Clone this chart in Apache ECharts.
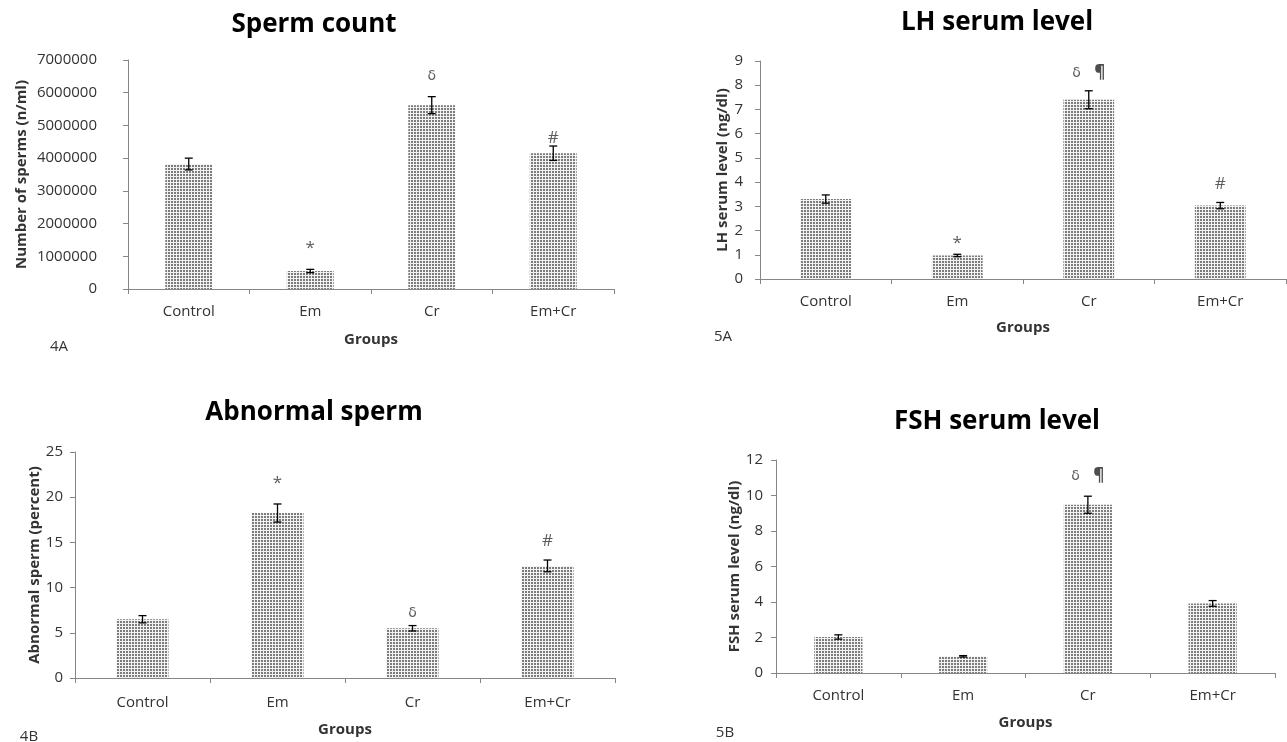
<!DOCTYPE html>
<html>
<head>
<meta charset="utf-8">
<script src="https://cdn.jsdelivr.net/npm/echarts/dist/echarts.min.js"></script>
<style>
  html, body { margin: 0; padding: 0; background: #fff; }
  #main { width: 1287px; height: 742px; }
</style>
</head>
<body>
<div id="main"></div>
<script>
const groups = ['Control', 'Em', 'Cr', 'Em+Cr'];

const spermCount = [3820000, 550000, 5620000, 4150000];
const spermCountErr = [180000, 50000, 260000, 220000];
const spermMarkAt = [1, 2, 3];
const spermMarkY = [1250000, 6490000, 4600000];
const spermMarkText = ['*', 'δ', '#'];

const lhLevel = [3.3, 0.97, 7.4, 3.03];
const lhErr = [0.17, 0.05, 0.37, 0.13];
const lhMarkAt = [1, 2, 3];
const lhMarkY = [1.5, 8.5, 3.9];
const lhMarkText = ['*', 'δ¶', '#'];

const abnormal = [6.5, 18.25, 5.5, 12.4];
const abnormalErr = [0.4, 1.0, 0.3, 0.65];
const abnormalMarkAt = [1, 2, 3];
const abnormalMarkY = [21.6, 7.2, 15.1];
const abnormalMarkText = ['*', 'δ', '#'];

const fshLevel = [2.03, 0.94, 9.48, 3.92];
const fshErr = [0.12, 0.04, 0.48, 0.16];
const fshMarkAt = [2];
const fshMarkY = [11.1];
const fshMarkText = ['δ¶'];

const FONT = 'Open Sans';

// dotted fill like the original bars
function dotPattern() {
    const c = document.createElement('canvas');
    c.width = 3;
    c.height = 3;
    const ctx = c.getContext('2d');
    ctx.fillStyle = '#f2f2f2';
    ctx.fillRect(0, 0, 3, 3);
    ctx.fillStyle = '#7c7c7c';
    ctx.fillRect(0, 0, 2, 2);
    return c;
}
const pattern = {image: dotPattern(), repeat: 'repeat'};

const panels = [
    {grid: {left: 128, top: 60, width: 486, height: 229}, max: 7000000, interval: 1000000,
        values: spermCount, err: spermCountErr, markAt: spermMarkAt, markY: spermMarkY, markText: spermMarkText,
        yName: 'Number of sperms (n/ml)', yGap: 99, yMargin: 31, xGap: 43, xMargin: 15},
    {grid: {left: 760, top: 61, width: 526, height: 218}, max: 9, interval: 1,
        values: lhLevel, err: lhErr, markAt: lhMarkAt, markY: lhMarkY, markText: lhMarkText,
        yName: 'LH serum level (ng/dl)', yGap: 27, yMargin: 17, xGap: 41, xMargin: 15},
    {grid: {left: 75, top: 452, width: 540, height: 226}, max: 25, interval: 5,
        values: abnormal, err: abnormalErr, markAt: abnormalMarkAt, markY: abnormalMarkY, markText: abnormalMarkText,
        yName: 'Abnormal sperm (percent)', yGap: 33, yMargin: 12, xGap: 44, xMargin: 17},
    {grid: {left: 776, top: 460, width: 499, height: 213}, max: 12, interval: 2,
        values: fshLevel, err: fshErr, markAt: fshMarkAt, markY: fshMarkY, markText: fshMarkText,
        yName: 'FSH serum level (ng/dl)', yGap: 33, yMargin: 13, xGap: 42, xMargin: 15}
];

const grid = [], xAxis = [], yAxis = [], series = [];

panels.forEach((p, i) => {
    grid.push(p.grid);
    xAxis.push({
        type: 'category', gridIndex: i, data: groups,
        name: 'Groups', nameLocation: 'middle', nameGap: p.xGap,
        nameTextStyle: {fontFamily: FONT, fontWeight: 'bold', fontSize: 15, color: '#333'},
        axisLine: {lineStyle: {color: '#868686'}},
        axisTick: {show: true, length: 5, lineStyle: {color: '#868686'}},
        axisLabel: {fontFamily: FONT, fontSize: 15, color: '#333', margin: p.xMargin},
        splitLine: {show: false}
    });
    yAxis.push({
        type: 'value', gridIndex: i, min: 0, max: p.max, interval: p.interval,
        name: p.yName, nameLocation: 'middle', nameGap: p.yGap, nameRotate: 90,
        nameTextStyle: {fontFamily: FONT, fontWeight: 'bold', fontSize: 15, color: '#333'},
        axisLine: {show: true, lineStyle: {color: '#868686'}},
        axisTick: {show: true, length: 5, lineStyle: {color: '#868686'}},
        axisLabel: {fontFamily: FONT, fontSize: 15, color: '#333', margin: p.yMargin, formatter: v => String(v)},
        splitLine: {show: false}
    });
    series.push({
        type: 'bar', xAxisIndex: i, yAxisIndex: i, barWidth: '38.6%',
        data: p.values,
        itemStyle: {color: pattern},
        silent: true
    });
    series.push({
        type: 'custom', xAxisIndex: i, yAxisIndex: i,
        data: p.values.map((v, k) => [k, v - p.err[k], v + p.err[k]]),
        encode: {x: 0, y: [1, 2]},
        renderItem: (params, api) => {
            const lo = api.coord([api.value(0), api.value(1)]);
            const hi = api.coord([api.value(0), api.value(2)]);
            const w = 4;
            const st = {stroke: '#000', lineWidth: 1.3};
            return {type: 'group', children: [
                {type: 'line', shape: {x1: hi[0], y1: hi[1], x2: lo[0], y2: lo[1]}, style: st},
                {type: 'line', shape: {x1: hi[0] - w, y1: hi[1], x2: hi[0] + w, y2: hi[1]}, style: st},
                {type: 'line', shape: {x1: lo[0] - w, y1: lo[1], x2: lo[0] + w, y2: lo[1]}, style: st}
            ]};
        },
        silent: true, z: 5
    });
    series.push({
        type: 'scatter', xAxisIndex: i, yAxisIndex: i, symbolSize: 0,
        data: p.markAt.map((k, j) => ({value: [k, p.markY[j]], name: p.markText[j]})),
        label: {
            show: true, position: 'inside',
            formatter: d => d.name === 'δ¶' ? '{d|δ}    {q|¶}' : (d.name === 'δ' ? '{d|δ}' : '{s|' + d.name + '}'),
            rich: {
                d: {fontFamily: 'DejaVu Sans', fontSize: 14, color: '#333'},
                q: {fontFamily: FONT, fontSize: 17, fontWeight: 'bold', color: '#222'},
                s: {fontFamily: FONT, fontSize: 17, color: '#333'}
            }
        },
        silent: true, z: 6
    });
});

function titleText(x, y, text) {
    return {type: 'text', x: x, y: y,
        style: {text: text, fontFamily: FONT, fontSize: 26, fontWeight: 'bold', fill: '#000',
            textAlign: 'center', textVerticalAlign: 'middle'}};
}
function tagText(x, y, text) {
    return {type: 'text', x: x, y: y,
        style: {text: text, fontFamily: FONT, fontSize: 15, fill: '#333',
            textAlign: 'center', textVerticalAlign: 'middle'}};
}

const chart = echarts.init(document.getElementById('main'), null, {renderer: 'canvas'});
chart.setOption({
    backgroundColor: '#fff',
    animation: false,
    grid: grid,
    xAxis: xAxis,
    yAxis: yAxis,
    series: series,
    graphic: [
        titleText(314, 25, 'Sperm count'),
        titleText(997, 23, 'LH serum level'),
        titleText(314, 413, 'Abnormal sperm'),
        titleText(997, 422, 'FSH serum level'),
        tagText(59, 347, '4A'),
        tagText(723, 337, '5A'),
        tagText(29, 737, '4B'),
        tagText(725, 733, '5B')
    ]
});
</script>
</body>
</html>
